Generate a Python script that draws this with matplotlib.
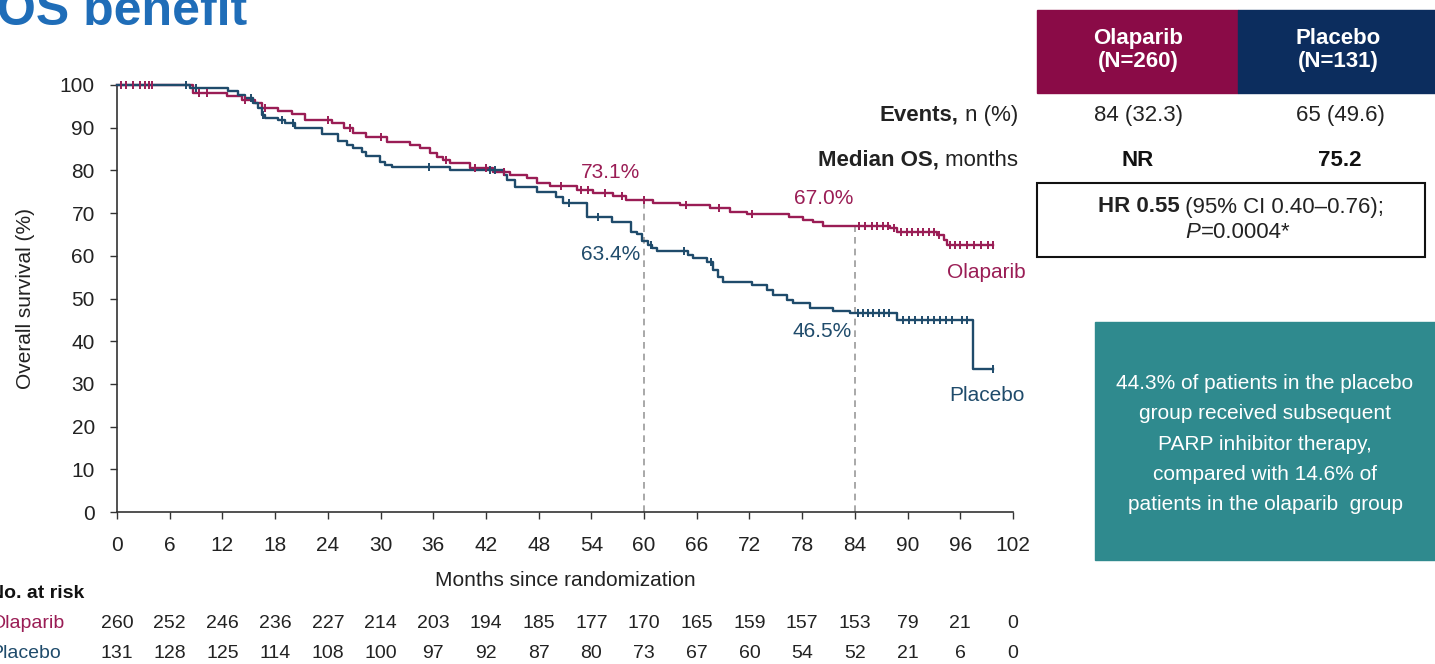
import numpy as np
import matplotlib
matplotlib.use("Agg")
import matplotlib.pyplot as plt
from matplotlib.patches import Rectangle

plt.rcParams['font.family'] = ['Liberation Sans', 'DejaVu Sans']

# Kaplan-Meier steps (months, % surviving after the step)
olap_t = [0, 8.7, 12.5, 14.2, 15.7, 16.5, 18.3, 19.9, 21.4, 24.5, 25.8, 26.9, 28.4, 30.7,
          33.4, 34.5, 35.6, 36.4, 37.1, 37.9, 40.2, 42.8, 44.7, 46.7, 47.8, 49.3, 52.4,
          54.2, 56.5, 58.0, 61.0, 64.1, 67.5, 69.8, 71.7, 76.5, 78.1, 79.2, 80.4, 88.0,
          88.8, 93.3, 94.1, 94.5, 99.7]
olap_s = [100, 98.2, 97.4, 96.5, 95.8, 94.6, 93.9, 93.2, 91.8, 91.1, 89.9, 88.8, 87.8, 86.6,
          85.9, 85.2, 84.1, 83.1, 82.4, 81.7, 80.6, 79.6, 78.9, 78.2, 77.0, 76.3, 75.4,
          74.7, 74.0, 73.1, 72.4, 71.9, 71.2, 70.3, 69.8, 69.2, 68.5, 67.8, 67.0, 66.4,
          65.6, 64.8, 63.8, 62.6, 62.6]
olap_cens = [0.5, 1.0, 1.8, 2.6, 3.2, 3.6, 4.0, 9.3, 10.2, 14.6, 16.8, 24.0, 26.5, 30.0,
             37.5, 40.8, 42.0, 44.0, 50.5, 52.8, 53.6, 55.5, 57.5, 60.0, 64.8, 68.5, 72.3,
             84.5, 85.2, 85.9, 86.5, 87.2, 87.8, 88.4, 89.2, 89.9, 90.5, 91.2, 91.8, 92.4,
             93.0, 93.6, 94.8, 95.4, 96.0, 96.8, 97.6, 98.4, 99.2, 99.7]

pbo_t = [0, 8.3, 12.6, 13.8, 14.6, 15.5, 16.0, 16.5, 16.9, 18.3, 19.1, 20.3, 23.3, 25.2,
         26.2, 26.9, 27.9, 28.4, 29.9, 30.5, 31.3, 37.9, 44.0, 44.4, 45.3, 47.8, 50.0,
         50.8, 53.5, 56.4, 58.5, 59.2, 59.8, 60.5, 60.9, 61.5, 65.0, 65.6, 67.2, 67.9,
         68.4, 69.0, 72.3, 74.0, 74.7, 76.3, 77.0, 78.9, 81.5, 83.5, 88.8, 97.5, 99.7]
pbo_s = [100, 99.2, 98.6, 97.7, 97.0, 95.8, 94.6, 93.0, 92.3, 91.8, 91.1, 89.9, 88.6, 86.8,
         85.9, 85.2, 84.3, 83.4, 82.0, 81.3, 80.8, 80.1, 78.9, 77.8, 76.1, 74.9, 73.8,
         72.4, 69.1, 67.9, 65.6, 65.0, 63.4, 62.5, 61.8, 61.1, 60.2, 59.5, 58.5, 56.7,
         55.0, 53.9, 53.2, 52.0, 50.8, 49.6, 49.0, 47.8, 47.1, 46.5, 45.0, 33.5, 33.5]
pbo_cens = [7.8, 9.0, 15.2, 16.6, 18.8, 20.0, 35.5, 42.5, 43.0, 51.5, 54.7, 60.8, 64.5,
            67.6, 84.3, 84.9, 85.5, 86.1, 86.7, 87.3, 87.9, 89.5, 90.2, 90.9, 91.6, 92.3,
            93.0, 93.7, 94.4, 95.1, 96.2, 96.8, 99.7]

months = list(range(0, 103, 6))
olap_risk = [260, 252, 246, 236, 227, 214, 203, 194, 185, 177, 170, 165, 159, 157, 153, 79, 21, 0]
pbo_risk = [131, 128, 125, 114, 108, 100, 97, 92, 87, 80, 73, 67, 60, 54, 52, 21, 6, 0]

landmarks = [60, 84]
olap_land = [73.1, 67.0]
pbo_land = [63.4, 46.5]

OLAP = '#9a1d55'
PBO = '#1f4b6b'
W, H = 1435, 664


def fx(px):
    return px / W


def fy(py):
    return 1 - py / H


def at(t, s, x):
    t = np.asarray(t)
    idx = np.searchsorted(t, x, side='right') - 1
    return np.asarray(s)[idx]


fig = plt.figure(figsize=(W / 100, H / 100), dpi=100)
ax = fig.add_axes([fx(117), fy(512), fx(1013) - fx(117), fy(85) - fy(512)])

for t, s, c, col in [(olap_t, olap_s, olap_cens, OLAP), (pbo_t, pbo_s, pbo_cens, PBO)]:
    ax.step(t, s, where='post', color=col, lw=1.7, clip_on=False, zorder=3)
    ax.plot(c, at(t, s, c), ls='none', marker='|', ms=6, mew=1.4, color=col,
            clip_on=False, zorder=4)

for m, v in zip(landmarks, olap_land):
    ax.plot([m, m], [0, v], ls=(0, (4, 3)), color='#9a9a9a', lw=1.2, zorder=2)

ax.set_xlim(0, 102)
ax.set_ylim(0, 100)
ax.set_xticks(months)
ax.set_yticks(range(0, 101, 10))
for sp in ['top', 'right']:
    ax.spines[sp].set_visible(False)
for sp in ['left', 'bottom']:
    ax.spines[sp].set_color('#333333')
    ax.spines[sp].set_linewidth(1.2)
ax.tick_params(axis='both', direction='out', length=5, width=1.0, colors='#333333',
               labelsize=15, labelcolor='#222222')
ax.tick_params(axis='y', pad=11)
ax.tick_params(axis='x', pad=12)
ax.set_xlabel('Months since randomization', fontsize=15, color='#222222', labelpad=12)
ax.set_ylabel('Overall survival (%)', fontsize=15, color='#222222', labelpad=18)

# percentage labels at landmarks
ax.text(56.2, 79.5, '73.1%', color=OLAP, fontsize=15, ha='center', va='center')
ax.text(56.2, 60.2, '63.4%', color=PBO, fontsize=15, ha='center', va='center')
ax.text(80.4, 73.5, '67.0%', color=OLAP, fontsize=15, ha='center', va='center')
ax.text(80.3, 42.2, '46.5%', color=PBO, fontsize=15, ha='center', va='center')
ax.text(99, 56.0, 'Olaparib', color=OLAP, fontsize=15, ha='center', va='center')
ax.text(99, 27.2, 'Placebo', color=PBO, fontsize=15, ha='center', va='center')

# title (cut at left edge, as on the slide)
fig.text(fx(247), fy(25), 'OS benefit', color='#1f6db8', fontsize=36, fontweight='bold',
         ha='right', va='baseline')

# number at risk
fig.text(fx(-10), fy(593), 'No. at risk', fontsize=14, fontweight='bold', color='#111111', va='center')
fig.text(fx(-10), fy(624), 'Olaparib', fontsize=14, color=OLAP, va='center')
fig.text(fx(-10), fy(654), 'Placebo', fontsize=14, color=PBO, va='center')
for m, a, b in zip(months, olap_risk, pbo_risk):
    xp = ax.transData.transform((m, 0))[0]
    fig.text(xp / W, fy(624), str(a), fontsize=14, color='#222222', ha='center', va='center')
    fig.text(xp / W, fy(654), str(b), fontsize=14, color='#222222', ha='center', va='center')

renderer = fig.canvas.get_renderer()


def rich(x_px, y_px, pieces, ha='center', size=15, color='#222222'):
    objs = []
    for s, w, st in pieces:
        objs.append(fig.text(0, fy(y_px), s, fontsize=size, fontweight=w, fontstyle=st,
                             color=color, ha='left', va='center'))
    widths = [o.get_window_extent(renderer).width for o in objs]
    start = x_px - sum(widths) if ha == 'right' else x_px - sum(widths) / 2
    for o, wd in zip(objs, widths):
        o.set_x(start / W)
        start += wd


# summary table
fig.patches.append(Rectangle((fx(1037), fy(93)), fx(1238) - fx(1037), fy(10) - fy(93),
                             transform=fig.transFigure, color='#8a0b47'))
fig.patches.append(Rectangle((fx(1238), fy(93)), fx(1435) - fx(1238), fy(10) - fy(93),
                             transform=fig.transFigure, color='#0c2d5e'))
fig.text(fx(1138), fy(50), 'Olaparib\n(N=260)', color='white', fontsize=16, fontweight='bold',
         ha='center', va='center', linespacing=1.15)
fig.text(fx(1338), fy(50), 'Placebo\n(N=131)', color='white', fontsize=16, fontweight='bold',
         ha='center', va='center', linespacing=1.15)

rich(1018, 115, [('Events,', 'bold', 'normal'), (' n (%)', 'normal', 'normal')], ha='right', size=16)
rich(1018, 160, [('Median OS,', 'bold', 'normal'), (' months', 'normal', 'normal')], ha='right', size=16)
fig.text(fx(1138), fy(115), '84 (32.3)', fontsize=16, color='#222222', ha='center', va='center')
fig.text(fx(1340), fy(115), '65 (49.6)', fontsize=16, color='#222222', ha='center', va='center')
fig.text(fx(1138), fy(160), 'NR', fontsize=16, fontweight='bold', color='#111111', ha='center', va='center')
fig.text(fx(1340), fy(160), '75.2', fontsize=16, fontweight='bold', color='#111111', ha='center', va='center')

fig.patches.append(Rectangle((fx(1037), fy(257)), fx(1425) - fx(1037), fy(183) - fy(257),
                             transform=fig.transFigure, facecolor='white', edgecolor='#111111', lw=1.5))
rich(1241, 207, [('HR 0.55', 'bold', 'normal'), (' (95% CI 0.40\u20130.76);', 'normal', 'normal')], size=16)
rich(1238, 232, [('P', 'normal', 'italic'), ('=0.0004*', 'normal', 'normal')], size=16)

# teal note box
fig.patches.append(Rectangle((fx(1095), fy(560)), fx(1435) - fx(1095), fy(322) - fy(560),
                             transform=fig.transFigure, color='#2f8a8e'))
fig.text(fx(1265), fy(444), '44.3% of patients in the placebo\ngroup received subsequent\n'
         'PARP inhibitor therapy,\ncompared with 14.6% of\npatients in the olaparib  group',
         color='white', fontsize=15, ha='center', va='center', linespacing=1.75)

fig.savefig('out.png', dpi=100)
